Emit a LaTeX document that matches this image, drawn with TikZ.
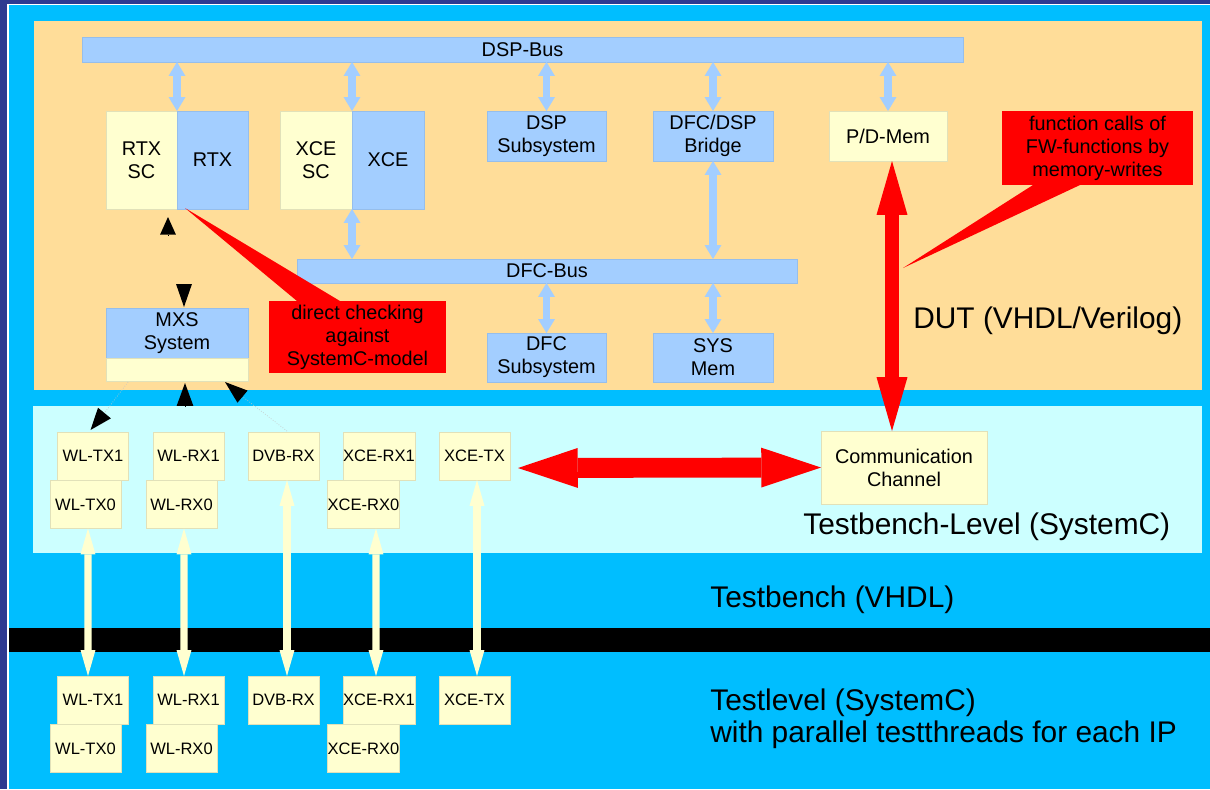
\documentclass[tikz,border=0pt]{standalone}
\usepackage{fontspec}
\setmainfont{Liberation Sans}
\usetikzlibrary{arrows.meta,calc}
\definecolor{frameblue}{RGB}{46,58,145}
\definecolor{bgblue}{RGB}{0,190,255}
\definecolor{peach}{RGB}{255,221,153}
\definecolor{tbcyan}{RGB}{204,255,255}
\definecolor{boxblue}{RGB}{163,206,255}
\definecolor{boxyellow}{RGB}{255,255,208}
\definecolor{callred}{RGB}{255,0,0}
\definecolor{boxedgeb}{RGB}{150,190,235}
\definecolor{boxedgey}{RGB}{225,225,185}
\newcommand{\mainsz}{\fontsize{11.3}{13.1}\selectfont}
\newcommand{\ipsz}{\fontsize{9.4}{11}\selectfont}
\newcommand{\bigsz}{\fontsize{17}{18.2}\selectfont}
\tikzset{
  wh/.style 2 args={minimum width=#1*0.02cm, minimum height=#2*0.02cm},
  bluebox/.style={fill=boxblue, draw=boxedgeb, line width=0.3pt, inner sep=0pt, outer sep=0pt, align=center, font=\mainsz},
  yellowbox/.style={fill=boxyellow, draw=boxedgey, line width=0.3pt, inner sep=0pt, outer sep=0pt, align=center, font=\mainsz},
  ipbox/.style={yellowbox, font=\ipsz, minimum width=71*0.02cm, minimum height=48*0.02cm},
  redbox/.style={fill=callred, draw=none, inner sep=0pt, outer sep=0pt, align=center, font=\mainsz},
  biglabel/.style={anchor=base west, inner sep=0pt, font=\bigsz},
  bustip/.tip={Triangle[length=7.9pt,width=9.6pt,line width=0pt]},
  busarrow/.style={draw=boxblue, line width=4.5pt, bustip-bustip},
  ytip/.tip={Triangle[length=14.7pt,width=8.5pt,line width=0pt]},
  yarrow/.style={draw=boxyellow, line width=4pt, ytip-ytip},
  rvtip/.tip={Triangle[length=30.6pt,width=17.6pt,line width=0pt]},
  redvarrow/.style={draw=callred, line width=8.5pt, rvtip-rvtip},
  rhtip/.tip={Triangle[length=34pt,width=22.7pt,line width=0pt]},
  redharrow/.style={draw=callred, line width=11.3pt, rhtip-rhtip},
  blacktip/.style={draw=black, line width=0.3pt, -{Triangle[#1,line width=0pt]}},
  faint/.style={draw=gray!45, line width=0.4pt, densely dotted},
}
\begin{document}
\begin{tikzpicture}[x=0.02cm,y=-0.02cm]
\useasboundingbox (0,0) rectangle (1210,789);
% frame and level bands
\fill[frameblue] (0,0) rectangle (1210,789);
\fill[white] (7,3.5) rectangle (1210,789);
\fill[bgblue] (8.5,5) rectangle (1210,789);
\fill[peach] (34,21) rectangle (1202,390);
\fill[tbcyan] (33,406) rectangle (1202,553);
\fill[black] (8.5,628) rectangle (1210,652);

% level labels
\node[biglabel] (dutlbl) at (913,328) {DUT (VHDL/Verilog)};
\node[biglabel] (tbllbl) at (803,534) {Testbench-Level (SystemC)};
\node[biglabel] (tblbl) at (710,607) {Testbench (VHDL)};
\node[biglabel] (tllbl) at (710,710) {Testlevel (SystemC)};
\node[biglabel] (tllbl2) at (710,742) {with parallel testthreads for each IP};

% DUT blocks
\node[bluebox, wh={881}{25}] (dspbus) at (522.5,49.5) {DSP-Bus};
\node[yellowbox, wh={71}{98}] (rtxsc) at (141.5,160) {RTX\\SC};
\node[bluebox, wh={71}{98}] (rtx) at (212.5,160) {RTX};
\node[yellowbox, wh={72}{98}] (xcesc) at (316,160) {XCE\\SC};
\node[bluebox, wh={72}{98}] (xce) at (388,160) {XCE};
\node[bluebox, wh={119}{50}] (dspsub) at (546.5,136) {DSP\\Subsystem};
\node[bluebox, wh={120}{50}] (bridge) at (713,136) {DFC/DSP\\Bridge};
\node[yellowbox, wh={118}{50}] (pdmem) at (888,136) {P/D-Mem};
\node[bluebox, wh={500}{24}] (dfcbus) at (547,271) {DFC-Bus};
\node[bluebox, wh={119}{49}] (dfcsub) at (546.5,357.5) {DFC\\Subsystem};
\node[bluebox, wh={120}{49}] (sysmem) at (713,357.5) {SYS\\Mem};
\node[bluebox, wh={142}{50}] (mxs) at (177,333) {MXS\\System};
\node[yellowbox, wh={142}{23}] (mxsb) at (177,369.5) {};

% bus connectors
\draw[busarrow] (rtxsc.north east) -- (rtxsc.north east |- dspbus.south);
\draw[busarrow] (xcesc.north east) -- (xcesc.north east |- dspbus.south);
\draw[busarrow] (dspsub.north) -- (dspsub.north |- dspbus.south);
\draw[busarrow] (bridge.north) -- (bridge.north |- dspbus.south);
\draw[busarrow] (pdmem.north) -- (pdmem.north |- dspbus.south);
\draw[busarrow] (xcesc.south east) -- (xcesc.south east |- dfcbus.north);
\draw[busarrow] (bridge.south) -- (bridge.south |- dfcbus.north);
\draw[busarrow] (dfcsub.north) -- (dfcsub.north |- dfcbus.south);
\draw[busarrow] (sysmem.north) -- (sysmem.north |- dfcbus.south);

% testbench-level IP boxes
\node[ipbox] (twltx1) at (93,456) {WL-TX1};
\node[ipbox] (twltx0) at (85.5,504.5) {WL-TX0};
\node[ipbox] (twlrx1) at (188.5,456) {WL-RX1};
\node[ipbox] (twlrx0) at (181.5,504.5) {WL-RX0};
\node[ipbox] (tdvb) at (283.5,456) {DVB-RX};
\node[ipbox] (txcerx1) at (379,456) {XCE-RX1};
\node[ipbox] (txcerx0) at (363.5,504.5) {XCE-RX0};
\node[ipbox] (txcetx) at (474.5,456) {XCE-TX};
\node[yellowbox, wh={166}{73}] (comm) at (904,467.5) {Communication\\Channel};

% testlevel IP boxes
\node[ipbox] (bwltx1) at (93,700) {WL-TX1};
\node[ipbox] (bwltx0) at (85.5,748.5) {WL-TX0};
\node[ipbox] (bwlrx1) at (188.5,700) {WL-RX1};
\node[ipbox] (bwlrx0) at (181.5,748.5) {WL-RX0};
\node[ipbox] (bdvb) at (283.5,700) {DVB-RX};
\node[ipbox] (bxcerx1) at (379,700) {XCE-RX1};
\node[ipbox] (bxcerx0) at (363.5,748.5) {XCE-RX0};
\node[ipbox] (bxcetx) at (474.5,700) {XCE-TX};

% testbench <-> testlevel connectors
\draw[yarrow] ($(twltx0.south)+(2.5,0)$) -- ($(bwltx1.north)+(-5,0)$);
\draw[yarrow] ($(twlrx0.south)+(2.5,0)$) -- ($(bwlrx1.north)+(-4.5,0)$);
\draw[yarrow] ($(tdvb.south)+(3.5,0)$) -- ($(bdvb.north)+(3.5,0)$);
\draw[yarrow] ($(txcerx0.south)+(12.5,0)$) -- ($(bxcerx1.north)+(-3,0)$);
\draw[yarrow] ($(txcetx.south)+(2.5,0)$) -- ($(bxcetx.north)+(2.5,0)$);

% MXS / SC connectors (arrow heads only)
\draw[blacktip={length=10pt,width=9pt}] ($(rtxsc.south)+(26.5,26)$) -- ($(rtxsc.south)+(26.5,8)$);
\draw[blacktip={length=13pt,width=9pt}] ($(mxs.north)+(7,-24)$) -- ($(mxs.north)+(7,-1)$);
\draw[blacktip={length=13pt,width=9.5pt}] ($(mxsb.south)+(8,25)$) -- ($(mxsb.south)+(8,2)$);
\draw[faint] ($(tdvb.north)+(3.5,-1)$) -- ($(mxsb.south east)+(-5,16)$);
\draw[blacktip={length=13pt,width=9pt}] ($(mxsb.south east)+(-5,16)$) -- ($(mxsb.south east)+(-23,1)$);
\draw[faint] ($(mxsb.south west)+(22,1)$) -- ($(twltx1.north west)+(47,-19)$);
\draw[blacktip={length=12.5pt,width=9.5pt}] ($(twltx1.north west)+(47,-19)$) -- ($(twltx1.north west)+(33,-2)$);

% red communication arrows
\draw[redvarrow] ($(pdmem.south)+(4,0)$) -- ($(pdmem.south |- comm.north)+(4,0)$);
\draw[redharrow] ($(txcetx.east)+(8,12)$) -- (comm.west);

% callouts
\node[redbox, wh={177}{72}] (callA) at (357.5,337) {direct checking\\against\\SystemC-model};
\fill[callred] ($(rtx.south west)+(8,-1)$) -- ($(callA.north west)+(28,0)$) -- ($(callA.north west)+(71,0)$) -- cycle;
\node[redbox, wh={191}{74}] (callB) at (1097.5,148) {function calls of\\FW-functions by\\memory-writes};
\fill[callred] ($(callB.south west)+(-99,83)$) -- ($(callB.south west)+(31,0)$) -- ($(callB.south west)+(78,0)$) -- cycle;
\end{tikzpicture}
\end{document}
